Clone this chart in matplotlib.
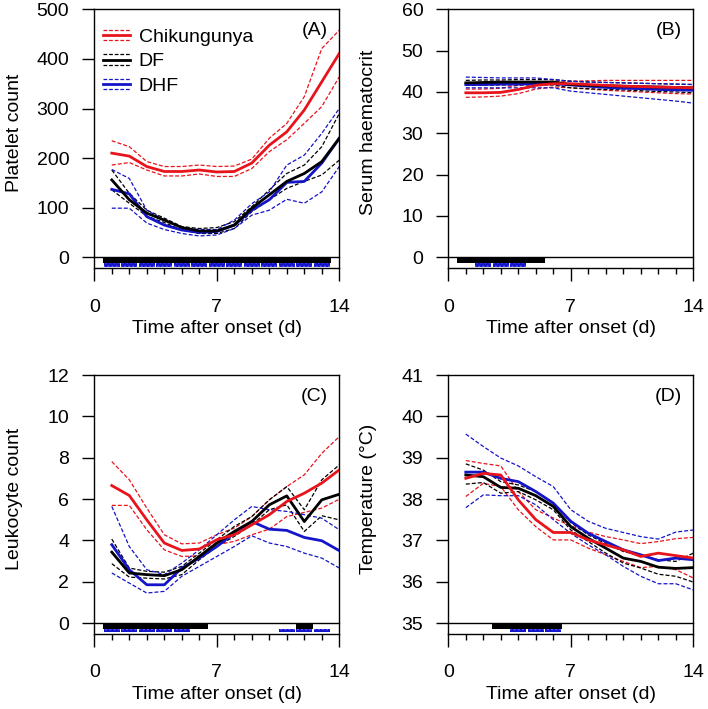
import matplotlib
matplotlib.use("Agg")
import matplotlib.pyplot as plt
from matplotlib.legend_handler import HandlerBase
from matplotlib.lines import Line2D
from matplotlib.patches import Rectangle

plt.rcParams['font.family'] = ['Liberation Sans', 'DejaVu Sans']

days = list(range(1, 15))

# ---- Panel A: Platelet count ----
A_chik = [210, 204, 183, 173, 173, 176, 172, 173, 190, 226, 253, 297, 354, 411]
A_chik_hi = [235, 223, 193, 183, 183, 186, 183, 184, 198, 240, 270, 324, 421, 458]
A_chik_lo = [186, 191, 176, 164, 164, 168, 163, 163, 179, 213, 237, 270, 304, 364]
A_df = [156, 116, 89, 75, 60, 53, 53, 65, 99, 126, 153, 169, 193, 240]
A_df_hi = [176, 129, 95, 79, 62, 58, 60, 72, 102, 136, 169, 186, 223, 290]
A_df_lo = [136, 109, 83, 70, 55, 48, 48, 58, 92, 116, 139, 153, 166, 196]
A_dhf = [137, 128, 82, 65, 55, 50, 52, 65, 95, 116, 151, 153, 190, 240]
A_dhf_hi = [177, 159, 95, 75, 60, 56, 56, 75, 108, 132, 186, 206, 250, 300]
A_dhf_lo = [99, 99, 69, 56, 48, 43, 45, 58, 85, 95, 117, 109, 132, 183]
A_sig_df = list(range(1, 14))
A_sig_dhf = list(range(1, 14))

# ---- Panel B: Serum haematocrit ----
B_chik = [39.8, 39.8, 39.9, 40.6, 41.6, 42.0, 42.0, 41.8, 41.6, 41.4, 41.3, 41.2, 41.1, 41.0]
B_chik_hi = [40.7, 40.7, 40.9, 41.6, 42.2, 42.6, 42.6, 42.7, 42.8, 42.8, 42.8, 42.8, 42.8, 42.8]
B_chik_lo = [38.7, 38.8, 39.0, 39.6, 40.7, 41.2, 41.0, 40.7, 40.4, 40.2, 40.0, 39.8, 39.6, 39.5]
B_df = [42.2, 42.3, 42.4, 42.4, 42.4, 42.4, 41.8, 41.6, 41.5, 41.4, 41.3, 41.2, 41.1, 41.0]
B_df_hi = [42.8, 42.9, 42.9, 43.0, 43.0, 43.0, 42.6, 42.4, 42.3, 42.2, 42.1, 42.0, 41.9, 41.8]
B_df_lo = [41.6, 41.6, 41.7, 41.7, 41.7, 41.7, 41.0, 40.8, 40.6, 40.5, 40.3, 40.1, 40.0, 39.8]
B_dhf = [41.8, 41.8, 41.9, 41.9, 42.0, 42.0, 41.7, 41.4, 41.1, 40.9, 40.8, 40.6, 40.5, 40.4]
B_dhf_hi = [43.6, 43.5, 43.4, 43.4, 43.4, 43.0, 42.6, 42.4, 42.3, 42.2, 42.1, 42.0, 41.9, 41.8]
B_dhf_lo = [41.0, 41.0, 41.0, 41.0, 41.0, 41.0, 40.2, 39.8, 39.4, 39.0, 38.6, 38.2, 37.8, 37.3]
B_sig_df = [1, 2, 3, 4, 5]
B_sig_dhf = [2, 3, 4]

# ---- Panel C: Leukocyte count ----
C_chik = [6.65, 6.17, 4.99, 3.87, 3.51, 3.58, 4.03, 4.27, 4.75, 5.24, 5.88, 6.28, 6.77, 7.41]
C_chik_hi = [7.81, 6.93, 5.56, 4.27, 3.83, 3.87, 4.27, 4.59, 5.15, 5.96, 6.60, 7.17, 8.21, 9.02]
C_chik_lo = [5.69, 5.69, 4.51, 3.54, 3.22, 3.25, 3.79, 3.95, 4.27, 4.54, 5.15, 5.35, 5.56, 5.99]
C_df = [3.43, 2.42, 2.34, 2.29, 2.58, 3.22, 3.87, 4.43, 4.91, 5.72, 6.15, 4.91, 5.96, 6.23]
C_df_hi = [4.06, 2.66, 2.50, 2.46, 2.74, 3.38, 4.03, 4.67, 5.15, 5.96, 6.60, 5.48, 6.93, 7.65]
C_df_lo = [2.87, 2.22, 2.17, 2.13, 2.34, 3.06, 3.70, 4.19, 4.75, 5.48, 5.72, 4.43, 5.19, 4.99]
C_dhf = [3.79, 2.58, 1.85, 1.85, 2.66, 3.14, 3.70, 4.35, 4.91, 4.54, 4.48, 4.14, 3.98, 3.50]
C_dhf_hi = [5.64, 3.70, 2.58, 2.34, 2.90, 3.54, 4.27, 4.99, 5.64, 5.48, 5.40, 5.24, 5.07, 4.51]
C_dhf_lo = [2.42, 1.93, 1.45, 1.53, 2.26, 2.74, 3.22, 3.70, 4.22, 3.87, 3.70, 3.38, 3.14, 2.66]
C_sig_df = [1, 2, 3, 4, 5, 6, 12]
C_sig_dhf = [1, 2, 3, 4, 5, 11, 12, 13]

# ---- Panel D: Temperature ----
D_chik = [38.50, 38.62, 38.58, 37.98, 37.50, 37.19, 37.19, 37.01, 36.89, 36.77, 36.61, 36.69, 36.63, 36.57]
D_chik_hi = [38.93, 38.86, 38.80, 38.18, 37.74, 37.54, 37.35, 37.20, 37.09, 37.01, 36.92, 36.97, 37.04, 37.07]
D_chik_lo = [38.06, 38.38, 38.30, 37.74, 37.33, 37.01, 37.01, 36.81, 36.65, 36.49, 36.34, 36.37, 36.29, 36.09]
D_df = [38.58, 38.54, 38.28, 38.26, 38.08, 37.82, 37.33, 37.05, 36.81, 36.57, 36.49, 36.35, 36.32, 36.34]
D_df_hi = [38.85, 38.70, 38.42, 38.34, 38.18, 37.90, 37.43, 37.13, 36.92, 36.73, 36.63, 36.53, 36.49, 36.69]
D_df_lo = [38.36, 38.40, 38.14, 38.18, 37.98, 37.74, 37.25, 36.97, 36.69, 36.45, 36.33, 36.18, 36.13, 35.99]
D_dhf = [38.65, 38.65, 38.50, 38.42, 38.18, 37.90, 37.46, 37.17, 36.97, 36.77, 36.65, 36.51, 36.57, 36.53]
D_dhf_hi = [39.57, 39.27, 38.99, 38.80, 38.54, 38.30, 37.74, 37.46, 37.29, 37.19, 37.09, 37.03, 37.20, 37.25]
D_dhf_lo = [37.79, 38.10, 38.08, 38.08, 37.86, 37.50, 37.17, 36.89, 36.65, 36.37, 36.13, 35.95, 35.95, 35.80]
D_sig_df = [3, 4, 5, 6]
D_sig_dhf = [4, 5, 6]

series_names = ['Chikungunya', 'DF', 'DHF']
RED = '#e8141c'
BLACK = '#000000'
BLUE = '#1414c8'
colors = [RED, BLACK, BLUE]

panels = [
    dict(tag='(A)', ylabel='Platelet count', ylim=(0, 500), yticks=[0, 100, 200, 300, 400, 500],
         data=[(A_chik, A_chik_lo, A_chik_hi), (A_df, A_df_lo, A_df_hi), (A_dhf, A_dhf_lo, A_dhf_hi)],
         sig_df=A_sig_df, sig_dhf=A_sig_dhf, legend=True),
    dict(tag='(B)', ylabel='Serum haematocrit', ylim=(0, 60), yticks=[0, 10, 20, 30, 40, 50, 60],
         data=[(B_chik, B_chik_lo, B_chik_hi), (B_df, B_df_lo, B_df_hi), (B_dhf, B_dhf_lo, B_dhf_hi)],
         sig_df=B_sig_df, sig_dhf=B_sig_dhf, legend=False),
    dict(tag='(C)', ylabel='Leukocyte count', ylim=(0, 12), yticks=[0, 2, 4, 6, 8, 10, 12],
         data=[(C_chik, C_chik_lo, C_chik_hi), (C_df, C_df_lo, C_df_hi), (C_dhf, C_dhf_lo, C_dhf_hi)],
         sig_df=C_sig_df, sig_dhf=C_sig_dhf, legend=False),
    dict(tag='(D)', ylabel='Temperature (°C)', ylim=(35, 41), yticks=[35, 36, 37, 38, 39, 40, 41],
         data=[(D_chik, D_chik_lo, D_chik_hi), (D_df, D_df_lo, D_df_hi), (D_dhf, D_dhf_lo, D_dhf_hi)],
         sig_df=D_sig_df, sig_dhf=D_sig_dhf, legend=False),
]

FS = 14


class TripleLineHandler(HandlerBase):
    def create_artists(self, legend, orig_handle, xdescent, ydescent,
                       width, height, fontsize, trans):
        c = orig_handle.get_color()
        yc = height / 2 - ydescent
        off = 0.27 * fontsize
        arts = []
        for dy, ls, lw in [(off, (0, (3.0, 1.5)), 0.9), (0.0, '-', 2.0), (-off, (0, (3.0, 1.5)), 0.9)]:
            ln = Line2D([-xdescent, -xdescent + width], [yc + dy, yc + dy],
                        color=c, linestyle=ls, linewidth=lw)
            ln.set_transform(trans)
            arts.append(ln)
        return arts


W, H = 708, 709
fig = plt.figure(figsize=(W / 100, H / 100), dpi=100)
lefts = [94.3, 448.3]
tops = [9.3, 375.0]
main_h = 248.0
strip_h = 10.7
ax_w = 245.0

for i, p in enumerate(panels):
    col = i % 2
    row = i // 2
    left = lefts[col]
    top = tops[row]
    bottom = top + main_h + strip_h
    ax = fig.add_axes([left / W, 1 - bottom / H, ax_w / W, (main_h + strip_h) / H])
    y0, y1 = p['ylim']
    rng = y1 - y0
    sb = y0 - rng * strip_h / main_h
    ax.set_xlim(0, 14)
    ax.set_ylim(sb, y1)

    dash = (0, (3.2, 1.6))
    for (m, lo, hi), c in zip(p['data'], colors):
        ax.plot(days, hi, color=c, lw=0.9, linestyle=dash, zorder=2)
        ax.plot(days, lo, color=c, lw=0.9, linestyle=dash, zorder=2)
    for (m, lo, hi), c, z in zip(p['data'], colors, [3.2, 3.1, 3.0]):
        ax.plot(days, m, color=c, lw=2.0, zorder=z)

    # strip with significance bars
    ax.axhline(y0, color='black', lw=1.0, zorder=5, clip_on=False)
    h_strip = y0 - sb
    for d in p['sig_df']:
        ax.add_patch(Rectangle((d - 0.5, y0 - 0.55 * h_strip), 1.0, 0.55 * h_strip,
                               facecolor='black', edgecolor='none', zorder=4))
    for d in p['sig_dhf']:
        ax.add_patch(Rectangle((d - 0.46, sb + 0.12 * h_strip), 0.92, 0.36 * h_strip,
                               facecolor=BLUE, edgecolor='#5a5aff', hatch='....',
                               linewidth=0, zorder=4.5))

    for s in ax.spines.values():
        s.set_linewidth(1.0)
    ax.set_yticks(p['yticks'])
    ax.set_xticks([0, 7, 14])
    ax.set_xticks(range(0, 15), minor=True)
    ax.tick_params(axis='y', direction='out', length=9, width=1.0, pad=9, labelsize=FS)
    ax.tick_params(axis='x', which='major', direction='out', length=9, width=1.0, pad=13, labelsize=FS)
    ax.tick_params(axis='x', which='minor', direction='out', length=4.5, width=1.0)

    ax.set_xlabel('Time after onset (d)', fontsize=FS)
    ax.xaxis.set_label_coords(0.5, -0.202)
    ax.set_ylabel(p['ylabel'], fontsize=FS)
    ax.yaxis.set_label_coords(-0.293, 0.523)

    ax.text(0.952, 0.917, p['tag'], transform=ax.transAxes, ha='right', va='center', fontsize=FS)

    if p['legend']:
        handles = [Line2D([], [], color=c) for c in colors]
        ax.legend(handles, series_names, loc='upper left', bbox_to_anchor=(0.034, 0.927),
                  frameon=False, fontsize=FS, handlelength=1.4, handletextpad=0.46,
                  labelspacing=0.36, borderpad=0, borderaxespad=0,
                  handler_map={Line2D: TripleLineHandler()})

fig.savefig('out.png', dpi=100)
